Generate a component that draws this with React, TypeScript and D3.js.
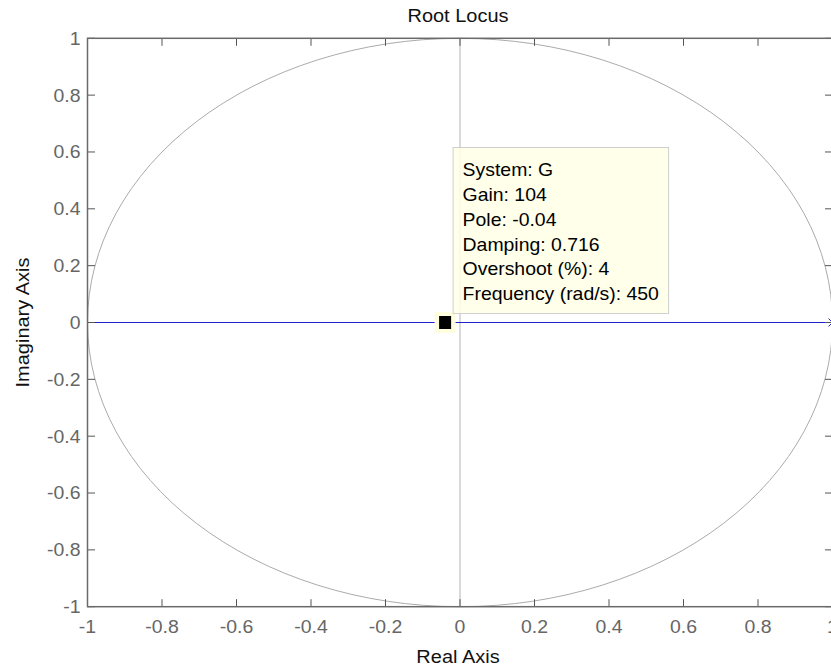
import React from "react";
import * as d3 from "d3";

const title = "Root Locus";
const xLabel = "Real Axis";
const yLabel = "Imaginary Axis";
const xTicks = [-1, -0.8, -0.6, -0.4, -0.2, 0, 0.2, 0.4, 0.6, 0.8, 1];
const yTicks = [-1, -0.8, -0.6, -0.4, -0.2, 0, 0.2, 0.4, 0.6, 0.8, 1];
const locusX = [-1, 1];
const locusY = [0, 0];
const poles = [{ re: 1, im: 0 }];
const tipPoint = { re: -0.04, im: 0 };
const tipLines = [
  "System: G",
  "Gain: 104",
  "Pole: -0.04",
  "Damping: 0.716",
  "Overshoot (%): 4",
  "Frequency (rad/s): 450",
];
const circleRadius = 1;

const W = 831;
const H = 669;
const left = 87.5;
const right = 832.5;
const top = 38.3;
const bottom = 606.7;

const FONT = "'Liberation Sans', Arial, Helvetica, sans-serif";
const FS = 18;
const SX = 1.08;

function T({ x, y, anchor = "middle", fill = "#666", rotate = 0, children, size = FS, sx = SX }: any) {
  const tr = rotate ? `translate(${x},${y}) rotate(${rotate}) scale(${sx},1)` : `translate(${x},${y}) scale(${sx},1)`;
  return (
    <g transform={tr}>
      <text x={0} y={0} textAnchor={anchor} fill={fill} fontFamily={FONT} fontSize={size}>
        {children}
      </text>
    </g>
  );
}

export default function App() {
  const xs = d3.scaleLinear().domain([-1, 1]).range([left, right]);
  const ys = d3.scaleLinear().domain([-1, 1]).range([bottom, top]);
  const tickLen = 7.5;
  const fmt = (v: number) => (Math.abs(v) < 1e-9 ? "0" : String(+v.toFixed(1)));

  const line = d3.line<number>().x((_, i) => xs(locusX[i])).y((_, i) => ys(locusY[i]));

  const mx = xs(tipPoint.re);
  const my = ys(tipPoint.im);
  const boxL = mx + 8;
  const boxB = my - 9;
  const boxW = 215.5;
  const boxH = 166;
  const lineH = 24.8;

  return (
    <svg width={W} height={H} style={{ position: "absolute", left: 0, top: 0, background: "#fff" }}>
      <rect x={0} y={0} width={W} height={H} fill="#fff" />
      <ellipse
        cx={xs(0)}
        cy={ys(0)}
        rx={xs(circleRadius) - xs(0)}
        ry={ys(0) - ys(circleRadius)}
        fill="none"
        stroke="#ababab"
        strokeWidth={1}
      />
      <line x1={xs(0)} x2={xs(0)} y1={top} y2={bottom} stroke="#b4b4b4" strokeWidth={1} />
      <path d={line(locusX) || ""} stroke="#2222cc" strokeWidth={1} fill="none" />
      {poles.map((p, i) => {
        const px = xs(p.re), py = ys(p.im), s = 4;
        return (
          <g key={i} stroke="#2222cc" strokeWidth={1}>
            <line x1={px - s} y1={py - s} x2={px + s} y2={py + s} />
            <line x1={px - s} y1={py + s} x2={px + s} y2={py - s} />
          </g>
        );
      })}
      {xTicks.map((v, i) => (
        <g key={"xt" + i} stroke="#555" strokeWidth={1}>
          <line x1={xs(v)} x2={xs(v)} y1={bottom} y2={bottom - tickLen} />
          <line x1={xs(v)} x2={xs(v)} y1={top} y2={top + tickLen} />
        </g>
      ))}
      {yTicks.map((v, i) => (
        <g key={"yt" + i} stroke="#555" strokeWidth={1}>
          <line x1={left} x2={left + tickLen} y1={ys(v)} y2={ys(v)} />
          <line x1={right} x2={right - tickLen} y1={ys(v)} y2={ys(v)} />
        </g>
      ))}
      <rect x={left} y={top} width={right - left} height={bottom - top} fill="none" stroke="#6a6a6a" strokeWidth={1.5} />
      {xTicks.map((v, i) => (
        <T key={"xl" + i} x={xs(v)} y={632.5}>
          {fmt(v)}
        </T>
      ))}
      {yTicks.map((v, i) => (
        <T key={"yl" + i} x={80.5} y={ys(v) + 6.4} anchor="end">
          {fmt(v)}
        </T>
      ))}
      <T x={458} y={22} fill="#111" size={18.5}>
        {title}
      </T>
      <T x={458} y={663} fill="#111" size={18.5}>
        {xLabel}
      </T>
      <T x={29} y={322.5} fill="#111" rotate={-90} size={18.5}>
        {yLabel}
      </T>
      <rect x={mx - 10.5} y={my - 10.5} width={21} height={21} fill="#ffffe0" stroke="none" />
      <rect x={mx - 6} y={my - 6.5} width={12} height={13} fill="#000" />
      <rect x={boxL} y={boxB - boxH} width={boxW} height={boxH} fill="#ffffe6" fillOpacity={0.85} stroke="#cfcfcf" strokeWidth={1} />
      {tipLines.map((s, i) => (
        <T key={"tl" + i} x={boxL + 9.5} y={boxB - boxH + 28.7 + i * lineH} anchor="start" fill="#000" size={17.5} sx={1.11}>
          {s}
        </T>
      ))}
    </svg>
  );
}
